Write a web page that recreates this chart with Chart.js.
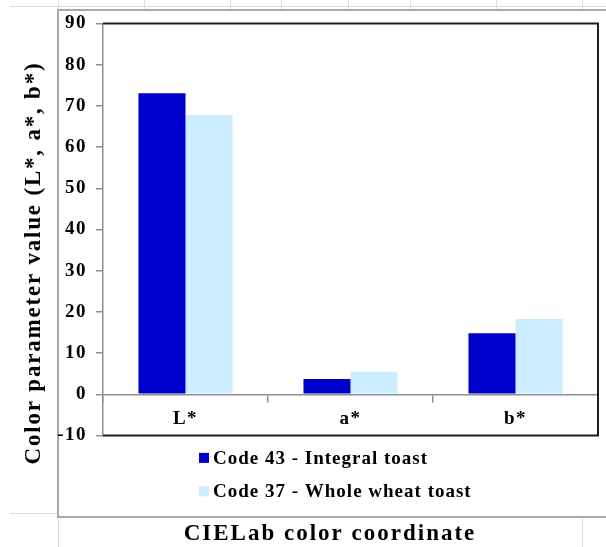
<!DOCTYPE html>
<html>
<head>
<meta charset="utf-8">
<script src="https://cdn.jsdelivr.net/npm/chart.js@4.4.1/dist/chart.umd.min.js"></script>
<style>
  html, body { margin: 0; padding: 0; background: #fff; }
  #sheet { position: relative; width: 606px; height: 547px; overflow: hidden; background: #fff; }
  .gl { position: absolute; background: #dcdcdc; }
  #box { position: absolute; left: 57px; top: 9px; width: 620px; height: 505px;
         border: 2px solid #a9a9a9; border-right: none; }
  #chart { position: absolute; left: 0; top: 0; }
</style>
</head>
<body>
<div id="sheet">
  <!-- worksheet cell lines around the embedded chart -->
  <div class="gl" style="left:10px;top:6px;width:600px;height:1px"></div>
  <div class="gl" style="left:58px;top:0;width:1px;height:9px"></div>
  <div class="gl" style="left:144px;top:0;width:1px;height:9px"></div>
  <div class="gl" style="left:230px;top:0;width:1px;height:9px"></div>
  <div class="gl" style="left:281px;top:0;width:1px;height:9px"></div>
  <div class="gl" style="left:348px;top:0;width:1px;height:9px"></div>
  <div class="gl" style="left:410px;top:0;width:1px;height:9px"></div>
  <div class="gl" style="left:496px;top:0;width:1px;height:9px"></div>
  <div class="gl" style="left:582px;top:0;width:1px;height:9px"></div>
  <div class="gl" style="left:10px;top:513px;width:47px;height:1px"></div>
  <div class="gl" style="left:58px;top:518px;width:1px;height:30px"></div>
  <div class="gl" style="left:582px;top:518px;width:1px;height:30px"></div>
  <div id="box"></div>
  <canvas id="chart" width="606" height="547"></canvas>
</div>
<script>
// CIELab coordinates measured on the two toast samples
const categories = ['L*', 'a*', 'b*'];
const integralToast = [73.1, 3.7, 14.8];
const wholeWheatToast = [67.8, 5.5, 18.3];
const seriesNames = ['Code 43 - Integral toast', 'Code 37 - Whole wheat toast'];
const yAxisRange = [-10, 90];
const yAxisStep = 10;
const xTitle = 'CIELab color coordinate';
const yTitle = 'Color parameter value (L*, a*, b*)';

const serif = "'Liberation Serif', 'Times New Roman', serif";
const axisGray = '#8e8e8e';

// slightly looser letter spacing for all chart text
const spacing = {
  id: 'spacing',
  beforeUpdate(chart) { chart.ctx.letterSpacing = '1.5px'; },
  beforeDraw(chart) { chart.ctx.letterSpacing = '1.5px'; }
};

// dark frame on the top, right and bottom sides of the plot
const frame = {
  id: 'frame',
  afterDraw(chart) {
    const { ctx, chartArea: a } = chart;
    ctx.save();
    ctx.strokeStyle = '#1e1e1e';
    ctx.lineWidth = 2;
    ctx.beginPath();
    ctx.moveTo(a.left, a.top);
    ctx.lineTo(a.right, a.top);
    ctx.lineTo(a.right, a.bottom);
    ctx.lineTo(a.left, a.bottom);
    ctx.stroke();
    ctx.restore();
  }
};

// two-row legend under the plot
const stackedLegend = {
  id: 'stackedLegend',
  afterDraw(chart) {
    const { ctx, chartArea: a } = chart;
    ctx.save();
    ctx.font = 'bold 19px ' + serif;
    ctx.letterSpacing = '1px';
    ctx.textAlign = 'left';
    ctx.textBaseline = 'alphabetic';
    chart.data.datasets.forEach((ds, i) => {
      const base = a.bottom + 28 + i * 33.4;
      ctx.fillStyle = ds.backgroundColor;
      ctx.fillRect(a.left + 96, base - 10.6, 10, 10);
      ctx.fillStyle = '#000';
      ctx.fillText(ds.label, a.left + 110, base);
    });
    ctx.restore();
  }
};

// axis titles sit in the cells outside the chart frame
const axisTitles = {
  id: 'axisTitles',
  afterDraw(chart) {
    const { ctx } = chart;
    ctx.save();
    ctx.fillStyle = '#000';
    ctx.font = 'bold 23px ' + serif;
    ctx.textAlign = 'center';
    ctx.textBaseline = 'alphabetic';
    ctx.letterSpacing = '2px';
    ctx.fillText(xTitle, 330, 540);
    ctx.letterSpacing = '1.8px';
    ctx.translate(40, 263);
    ctx.rotate(-Math.PI / 2);
    ctx.fillText(yTitle, 0, 0);
    ctx.restore();
  }
};

const tickFont = { family: serif, size: 19, weight: 'bold' };

new Chart(document.getElementById('chart'), {
  type: 'bar',
  data: {
    labels: categories,
    datasets: [
      { label: seriesNames[0], data: integralToast, backgroundColor: '#0000CC', borderWidth: 0,
        categoryPercentage: 0.57, barPercentage: 1.0 },
      { label: seriesNames[1], data: wholeWheatToast, backgroundColor: '#CCECFF', borderWidth: 0,
        categoryPercentage: 0.57, barPercentage: 1.0 }
    ]
  },
  options: {
    responsive: false,
    animation: false,
    devicePixelRatio: 1,
    layout: { padding: { left: 0, top: 23.5, right: 8, bottom: 111.5 } },
    plugins: {
      legend: { display: false },
      tooltip: { enabled: false }
    },
    scales: {
      x: {
        position: { y: 0 },
        offset: true,
        grid: { offset: true, drawOnChartArea: false, drawTicks: true, tickLength: 7,
                tickColor: axisGray, lineWidth: 1.5 },
        border: { color: axisGray, width: 1.5 },
        ticks: { color: '#000', font: tickFont, padding: 6, maxRotation: 0 }
      },
      y: {
        min: yAxisRange[0],
        max: yAxisRange[1],
        ticks: { stepSize: yAxisStep, color: '#000', font: tickFont, padding: 9 },
        grid: { drawOnChartArea: false, drawTicks: true, tickLength: 7,
                tickColor: axisGray, lineWidth: 1.5 },
        border: { color: axisGray, width: 1.5 },
        afterFit(scale) { scale.width = 103; }
      }
    }
  },
  plugins: [spacing, frame, stackedLegend, axisTitles]
});
</script>
</body>
</html>
